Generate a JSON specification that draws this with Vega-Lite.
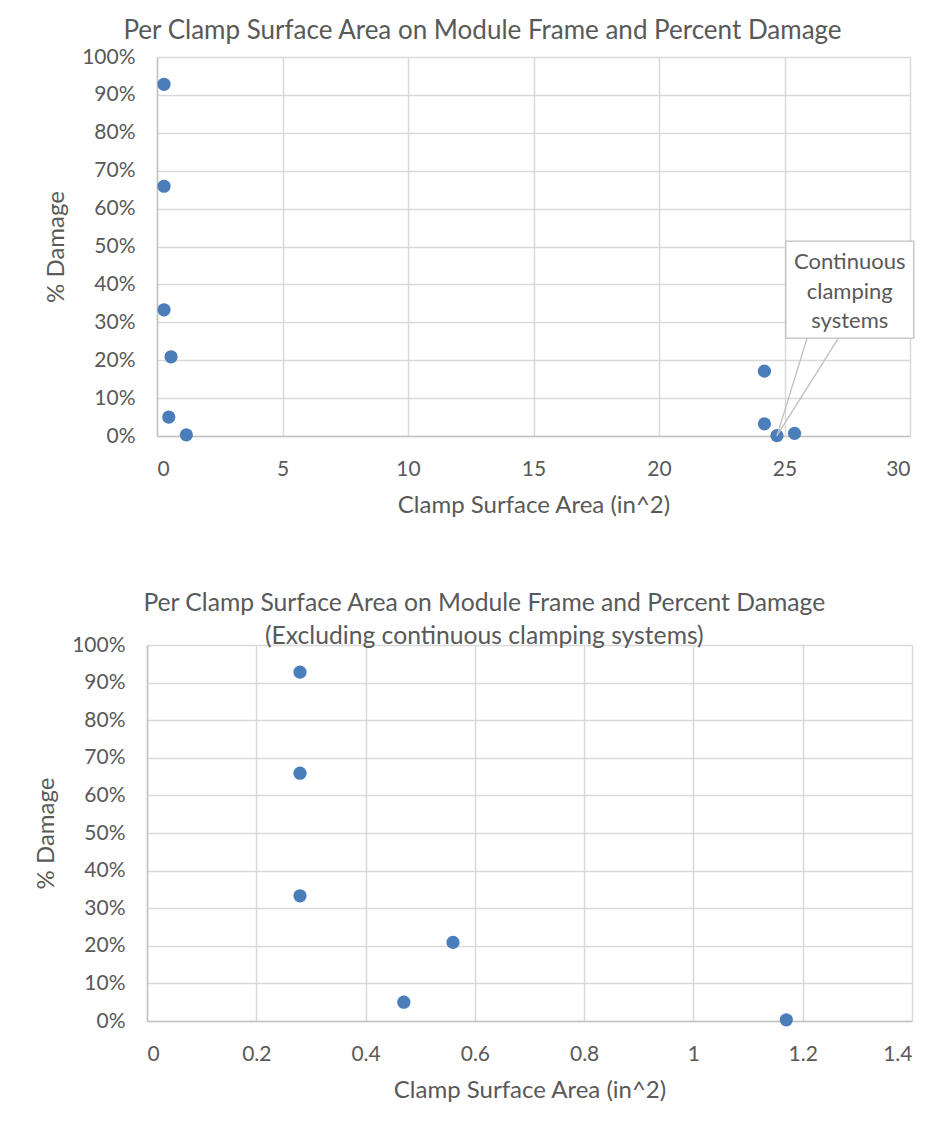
{
  "$schema": "https://vega.github.io/schema/vega-lite/v6.json",
  "padding": {"left": 34, "top": 18, "right": 0, "bottom": 0},
  "background": "white",
  "datasets": {
    "clamps": [
      {"area": 0.28, "damage": 0.928, "system": "discrete"},
      {"area": 0.28, "damage": 0.659, "system": "discrete"},
      {"area": 0.28, "damage": 0.333, "system": "discrete"},
      {"area": 0.56, "damage": 0.209, "system": "discrete"},
      {"area": 0.47, "damage": 0.05, "system": "discrete"},
      {"area": 1.17, "damage": 0.003, "system": "discrete"},
      {"area": 24.2, "damage": 0.171, "system": "continuous"},
      {"area": 24.2, "damage": 0.032, "system": "continuous"},
      {"area": 24.7, "damage": 0.001, "system": "continuous"},
      {"area": 25.4, "damage": 0.007, "system": "continuous"}
    ]
  },
  "bounds": "flush",
  "spacing": 588,
  "vconcat": [
    {
      "bounds": "flush",
      "spacing": 9,
      "hconcat": [
        {
          "width": 1,
          "height": 379,
          "data": {"values": [{}]},
          "mark": {"type": "point", "opacity": 0}
        },
        {
          "width": 753,
          "height": 379,
          "title": {
            "text": "Per Clamp Surface Area on Module Frame and Percent Damage",
            "frame": "bounds",
            "offset": 2,
            "dx": 3
          },
          "data": {"name": "clamps"},
          "encoding": {
            "x": {
              "field": "area",
              "type": "quantitative",
              "scale": {"domain": [0, 30], "nice": false},
              "axis": {"values": [0, 5, 10, 15, 20, 25, 30], "title": "Clamp Surface Area (in^2)"}
            },
            "y": {
              "field": "damage",
              "type": "quantitative",
              "scale": {"domain": [0, 1], "nice": false},
              "axis": {"values": [0, 0.1, 0.2, 0.3, 0.4, 0.5, 0.6, 0.7, 0.8, 0.9, 1], "format": ".0%", "title": "% Damage"}
            }
          },
          "layer": [
            {
              "mark": {"type": "point", "filled": true, "shape": "circle", "size": 175, "opacity": 1, "color": "#4a7ebb"}
            },
            {
              "transform": [{"filter": "datum.area === 24.7"}],
              "mark": {"type": "rule", "color": "#bfbfbf", "strokeWidth": 1.3, "clip": false},
              "encoding": {
                "x2": {"datum": 25.9},
                "y2": {"datum": 0.258}
              }
            },
            {
              "transform": [{"filter": "datum.area === 24.7"}],
              "mark": {"type": "rule", "color": "#bfbfbf", "strokeWidth": 1.3, "clip": false},
              "encoding": {
                "x2": {"datum": 27.15},
                "y2": {"datum": 0.258}
              }
            },
            {
              "transform": [{"filter": "datum.area === 24.7"}],
              "mark": {"type": "rect", "fill": "white", "stroke": "#bfbfbf", "strokeWidth": 1.3, "clip": false},
              "encoding": {
                "x": {"datum": 25.05, "type": "quantitative"},
                "x2": {"datum": 30.15},
                "y": {"datum": 0.514, "type": "quantitative"},
                "y2": {"datum": 0.258}
              }
            },
            {
              "transform": [{"filter": "datum.area === 24.7"}],
              "mark": {"type": "text", "text": ["Continuous", "clamping", "systems"], "fontSize": 22, "lineHeight": 29.5, "color": "#595959", "align": "center", "baseline": "middle", "font": "Lato"},
              "encoding": {
                "x": {"datum": 27.6, "type": "quantitative"},
                "y": {"datum": 0.459, "type": "quantitative"}
              }
            }
          ]
        }
      ]
    },
    {
      "width": 765,
      "height": 376,
      "title": {
        "text": ["Per Clamp Surface Area on Module Frame and Percent Damage", "(Excluding continuous clamping systems)"],
        "frame": "bounds",
        "fontSize": 24.7,
        "lineHeight": 33,
        "offset": -15,
        "dx": 11
      },
      "data": {"name": "clamps"},
      "transform": [{"filter": "datum.system === 'discrete'"}],
      "encoding": {
        "x": {
          "field": "area",
          "type": "quantitative",
          "scale": {"domain": [0, 1.4], "nice": false},
          "axis": {"values": [0, 0.2, 0.4, 0.6, 0.8, 1, 1.2, 1.4], "format": "~g", "title": "Clamp Surface Area (in^2)"}
        },
        "y": {
          "field": "damage",
          "type": "quantitative",
          "scale": {"domain": [0, 1], "nice": false},
          "axis": {"values": [0, 0.1, 0.2, 0.3, 0.4, 0.5, 0.6, 0.7, 0.8, 0.9, 1], "format": ".0%", "title": "% Damage"}
        }
      },
      "mark": {"type": "point", "filled": true, "shape": "circle", "size": 175, "opacity": 1, "color": "#4a7ebb"}
    }
  ],
  "config": {
    "font": "Lato",
    "view": {"stroke": null},
    "title": {"font": "Lato", "fontSize": 26, "fontWeight": "normal", "color": "#595959", "anchor": "middle"},
    "axis": {
      "grid": true,
      "gridColor": "#d9d9d9",
      "gridWidth": 1.5,
      "domainColor": "#c4c4c4",
      "domainWidth": 1.5,
      "ticks": false,
      "labelFont": "Lato",
      "labelFontSize": 21,
      "labelColor": "#595959",
      "titleFont": "Lato",
      "titleFontSize": 24,
      "titleFontWeight": "normal",
      "titleColor": "#595959"
    },
    "axisX": {"labelPadding": 22, "titlePadding": 14},
    "axisY": {"labelPadding": 22, "titlePadding": 13}
  }
}
